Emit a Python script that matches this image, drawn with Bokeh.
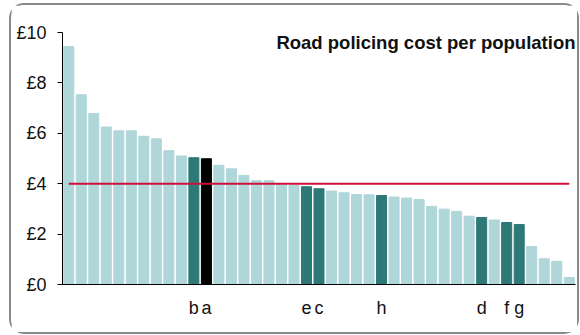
from bokeh.plotting import figure
from bokeh.models import (ColumnDataSource, Range1d, FixedTicker, PrintfTickFormatter,
                          Label, Spacer)
from bokeh.layouts import row, column
from bokeh.embed import file_html
from bokeh.resources import INLINE

# ---- data ----
values = [9.44, 7.53, 6.79, 6.25, 6.10, 6.10, 5.88, 5.78, 5.31, 5.10,
          5.03, 4.99, 4.73, 4.59, 4.33, 4.12, 4.12, 3.96, 3.94, 3.88,
          3.80, 3.71, 3.64, 3.57, 3.56, 3.53, 3.47, 3.43, 3.37, 3.10,
          2.99, 2.90, 2.71, 2.66, 2.56, 2.46, 2.38, 1.51, 1.02, 0.92, 0.28]
labels = ["", "", "", "", "", "", "", "", "", "",
          "b", "a", "", "", "", "", "", "", "", "e",
          "c", "", "", "", "", "h", "", "", "", "",
          "", "", "", "d", "", "f", "g", "", "", "", ""]
# group: 0 = other forces, 1 = comparison forces, 2 = this force
groups = [0, 0, 0, 0, 0, 0, 0, 0, 0, 0,
          1, 2, 0, 0, 0, 0, 0, 0, 0, 1,
          1, 0, 0, 0, 0, 1, 0, 0, 0, 0,
          0, 0, 0, 1, 0, 1, 1, 0, 0, 0, 0]
average = 4.0
y_ticks = [0, 2, 4, 6, 8, 10]
title_text = "Road policing cost per population"

palette = {0: "#afd6d9", 1: "#2e7878", 2: "#000000"}

OFF_X, OFF_Y = 11, 5          # figure offset inside the rounded frame
W, H = 566, 327
ML, MR, MT, MB = 51, 2, 27, 48

x = list(range(len(values)))
colors = [palette[g] for g in groups]
src = ColumnDataSource(dict(x=x, top=values, color=colors))

x0, x1 = -0.5, len(values) - 0.5
p = figure(width=W, height=H, output_backend="svg", toolbar_location=None,
           x_range=Range1d(x0, x1), y_range=Range1d(0, 10),
           min_border_left=ML, min_border_right=MR, min_border_top=MT,
           min_border_bottom=MB)
p.outline_line_color = None
p.grid.visible = False
p.background_fill_color = "white"
p.border_fill_color = "white"

p.vbar(x="x", top="top", width=0.8, bottom=0, color="color", source=src)

# average line
p.line(x=[0, len(values) - 1], y=[average, average], line_color="#d0103a", line_width=2)

# y axis
ya = p.yaxis[0]
ya.ticker = FixedTicker(ticks=y_ticks)
ya.formatter = PrintfTickFormatter(format="£%d")
ya.major_tick_in = 0
ya.major_tick_out = 5
ya.minor_tick_line_color = None
ya.axis_line_color = "#000000"
ya.major_tick_line_color = "#000000"
ya.major_label_text_font = "Liberation Sans"
ya.major_label_text_font_size = "18px"
ya.major_label_text_color = "#111111"
ya.major_label_standoff = 11

# x axis
xa = p.xaxis[0]
lab_ticks = [i for i, l in enumerate(labels) if l]
xa.ticker = FixedTicker(ticks=lab_ticks)
xa.major_label_overrides = {i: labels[i] for i in lab_ticks}
xa.major_tick_in = 0
xa.major_tick_out = 0
xa.minor_tick_line_color = None
xa.axis_line_color = "#000000"
xa.major_label_text_font = "Liberation Sans"
xa.major_label_text_font_size = "18px"
xa.major_label_text_color = "#111111"
xa.major_label_standoff = 13

# title inside plot
p.add_layout(Label(x=x1, y=9.6, text=title_text, text_align="right",
                   text_baseline="alphabetic", text_font="Liberation Sans",
                   text_font_style="bold", text_font_size="18.5px", text_color="#111111"))

# rounded grey frame drawn just outside the figure
p.styles = {"outline": "2px solid #8a8a8a", "outline-offset": "0px",
            "border-radius": "13px"}

layout = column(Spacer(width=W + OFF_X, height=OFF_Y),
                row(Spacer(width=OFF_X, height=H), p))

open("out.html", "w").write(file_html(layout, INLINE))
